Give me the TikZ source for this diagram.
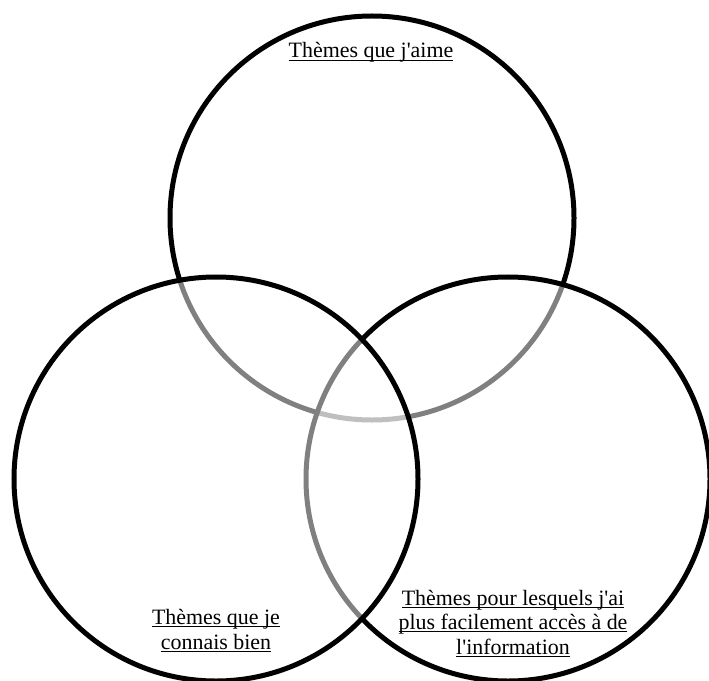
\documentclass[tikz,border=0pt]{standalone}
\usepackage{fontspec}
\setmainfont{Liberation Serif}
\usepackage{tikz}
\usetikzlibrary{positioning}
\definecolor{ink}{RGB}{0,0,0}
\newcommand{\ulthem}[1]{\setbox0\hbox{#1}\rlap{\rule[-2.6pt]{\wd0}{1pt}}\box0}
\newcommand{\ap}{\textquotesingle}
\tikzset{
  ring/.style={circle, draw=ink, fill=white, fill opacity=0.5, line width=5bp,
    minimum size=404bp, inner sep=0pt},
  theme/.style={align=center, inner sep=0pt, text=ink,
    font=\fontsize{22}{24.5}\selectfont},
}
\begin{document}
\begin{tikzpicture}[x=1bp,y=-1bp]
  \useasboundingbox (0,0) rectangle (709,681);
  % top, then right, then left on top
  \node[ring] (aime) at (372,218) {};
  \node[ring] (acces) at (508,479) {};
  \node[ring] (connais) at (216,479) {};
  \node[theme, anchor=base] (taime) at (371,58) {\ulthem{Thèmes que j\ap aime}};
  \node[theme, anchor=base] (tconnais) at (216,649) {\ulthem{Thèmes que je}\\\ulthem{connais bien}};
  \node[theme, anchor=base] (tacces) at (513,654) {\ulthem{Thèmes pour lesquels j\ap ai}\\\ulthem{plus facilement accès à de}\\\ulthem{l\ap information}};
\end{tikzpicture}
\end{document}
